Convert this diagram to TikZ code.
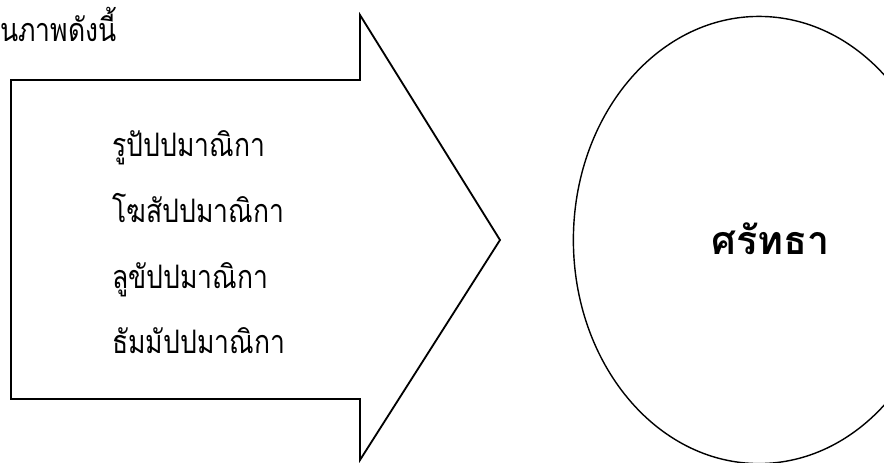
\documentclass[tikz,border=0pt]{standalone}
\usepackage{fontspec}
\newfontfamily\thaifont[Script=Thai,FakeStretch=0.82]{Loma}
\newfontfamily\thaiwide[Script=Thai]{Loma}
\usetikzlibrary{positioning,shapes.geometric}

\begin{document}
\begin{tikzpicture}[
    x=0.025cm, y=0.025cm,
    font=\thaifont\fontsize{23}{27}\selectfont,
    item/.style={
        anchor=base west,
        inner sep=0pt
    },
    bigarrow/.style={
        draw=black,
        line width=1.3pt,
        line join=miter
    },
    goal/.style={
        ellipse,
        draw=black,
        line width=1pt,
        minimum width=264,
        minimum height=318,
        inner sep=0pt
    }
]

\useasboundingbox (0,0) rectangle (884,462);

% =========================================================
% TITULO
% =========================================================

\node[anchor=base west, inner sep=0pt] (heading) at (0,420) {นภาพดังนี้};

% =========================================================
% FLECHA GRANDE
% =========================================================

\coordinate (shaftnw) at (11,382);
\coordinate (shaftne) at (360,382);
\coordinate (headtop) at (360,447);
\coordinate (headtip) at (500,222);
\coordinate (headbot) at (360,2);
\coordinate (shaftse) at (360,63);
\coordinate (shaftsw) at (11,63);

\draw[bigarrow] (shaftnw) -- (shaftne) -- (headtop) -- (headtip)
    -- (headbot) -- (shaftse) -- (shaftsw) -- cycle;

% =========================================================
% LISTA
% =========================================================

\node[item] (rupa) at (112,305) {รูปัปปมาณิกา};
\node[item, below=1.64cm of rupa.base west, anchor=base west] (ghosa) {โฆสัปปมาณิกา};
\node[item, below=1.64cm of ghosa.base west, anchor=base west] (lukha) {ลูขัปปมาณิกา};
\node[item, below=1.64cm of lukha.base west, anchor=base west] (dhamma) {ธัมมัปปมาณิกา};

% =========================================================
% ELIPSE
% =========================================================

\node[goal] (saddha) at (759,222) {};
\node[font=\thaiwide\bfseries\fontsize{28}{32}\selectfont, anchor=base, inner sep=0pt]
    (saddhalabel) at ([xshift=8]saddha.center |- 0,207) {ศรัทธา};

\end{tikzpicture}
\end{document}
